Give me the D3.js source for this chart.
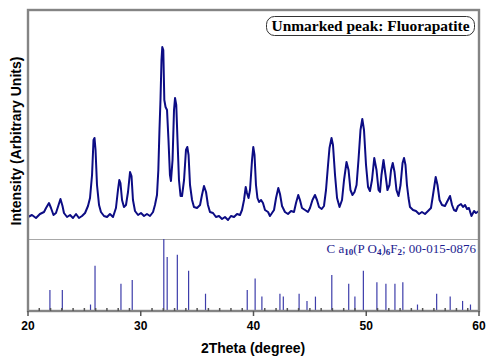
<!DOCTYPE html>
<meta charset="utf-8">
<head>
  <title>XRD pattern</title>
  <script src="https://d3js.org/d3.v7.min.js"></script>
  <style>
    body { margin: 0; background: #fff; }
  </style>
</head>
<body>
<div id="chart"></div>
<script>
// measured pattern: 2theta (deg) and intensity (arbitrary units)
const twoTheta = [20.00,20.35,20.71,21.06,21.42,21.60,21.86,22.04,22.26,22.48,22.71,22.88,23.06,23.19,23.46,23.73,23.99,24.26,24.52,24.79,
  25.06,25.32,25.50,25.68,25.81,25.90,25.99,26.12,26.30,26.47,26.74,27.01,27.27,27.54,27.80,27.98,28.10,28.20,28.34,28.51,
  28.69,28.87,29.05,29.18,29.31,29.49,29.76,30.02,30.29,30.55,30.82,31.09,31.26,31.44,31.56,31.66,31.75,31.84,31.91,32.00,
  32.09,32.20,32.33,32.46,32.59,32.68,32.82,32.95,33.04,33.15,33.26,33.39,33.53,33.66,33.84,34.01,34.13,34.24,34.37,34.55,
  34.72,34.99,35.26,35.43,35.61,35.79,35.96,36.14,36.41,36.67,36.94,37.21,37.47,37.74,38.00,38.27,38.54,38.80,38.98,39.16,
  39.31,39.42,39.56,39.69,39.87,39.98,40.09,40.22,40.35,40.49,40.67,40.84,41.02,41.29,41.46,41.64,41.82,42.00,42.20,42.35,
  42.53,42.79,43.06,43.33,43.59,43.77,43.97,44.12,44.30,44.57,44.83,45.01,45.23,45.45,45.63,45.81,46.05,46.25,46.43,46.61,
  46.74,46.92,47.05,47.23,47.41,47.63,47.85,48.03,48.25,48.43,48.60,48.78,48.96,49.14,49.31,49.49,49.65,49.80,49.98,50.16,
  50.33,50.51,50.71,50.91,51.09,51.22,51.35,51.53,51.71,51.88,52.06,52.20,52.35,52.51,52.68,52.86,53.04,53.22,53.35,53.48,
  53.61,53.75,53.88,54.15,54.41,54.68,54.94,55.21,55.48,55.74,55.92,56.16,56.32,56.50,56.72,56.98,57.25,57.43,57.61,57.78,
  57.96,58.14,58.40,58.58,58.76,58.94,59.11,59.33,59.56,59.73,60.00];
const intensity = [115,125,110,130,140,160,185,160,125,135,175,205,170,135,115,125,110,130,110,120,
  135,170,210,325,500,510,450,275,175,140,120,115,130,115,160,250,300,285,200,165,
  175,240,340,320,200,145,125,135,120,130,120,140,175,225,350,550,700,900,965,950,
  700,665,650,500,325,295,400,650,710,675,500,300,220,220,300,450,465,425,275,200,
  165,160,175,225,270,240,175,140,135,115,120,105,115,100,120,115,130,125,150,200,
  265,235,210,250,400,465,425,275,210,190,200,185,150,140,120,135,150,210,260,230,
  170,140,130,145,140,185,225,200,160,150,140,160,200,225,200,165,155,170,250,375,
  460,510,475,325,210,165,200,300,390,350,250,225,240,275,400,550,605,550,375,265,
  245,300,410,350,250,240,325,400,325,250,275,350,385,340,250,220,275,385,410,375,
  275,210,165,150,145,130,140,130,145,160,225,315,275,200,175,170,200,220,175,150,
  145,170,180,165,175,155,160,120,145,135,145];

// reference card: Ca10(PO4)6F2, 00-015-0876
const refPeaks = [21.9,23.0,25.5,25.9,28.2,29.2,32.0,32.3,33.2,34.2,35.7,39.4,40.1,40.7,42.3,42.6,44.0,44.7,45.45,46.9,
  48.4,48.95,49.7,50.9,51.7,52.5,53.2,54.5,56.2,57.4,58.5,59.2];
const refIntensity = [29,29,9,63,38,43,100,75,78,56,24,29,45,20,24,20,24,14,20,50,
  38,20,56,40,38,38,40,9,24,20,14,9];

const xTicks = [20,30,40,50,60];

const svg = d3.select("#chart").append("svg")
  .attr("width", 486)
  .attr("height", 356);

const padL = 28, padR = 479, padT = 10, padB = 311, split = 240;

const x = d3.scaleLinear().domain([20, 60]).range([padL, padR]);
const y = d3.scaleLinear().domain([0, 1150]).range([split, padT]);
const yRef = d3.scaleLinear().domain([0, 100]).range([padB, split - 1]);

// divider between pattern and reference card
svg.append("line")
  .attr("x1", padL).attr("x2", padR)
  .attr("y1", split - 0.5).attr("y2", split - 0.5)
  .attr("stroke", "#a8a8a8").attr("stroke-width", 1);

// reference sticks
svg.append("g")
  .selectAll("line")
  .data(refPeaks)
  .enter().append("line")
    .attr("x1", d => x(d) + 0.5).attr("x2", d => x(d) + 0.5)
    .attr("y1", padB)
    .attr("y2", (d, i) => yRef(refIntensity[i]))
    .attr("stroke", "#3d3daa")
    .attr("stroke-width", 1.2);

// measured pattern
const pts = twoTheta.map((t, i) => [t, intensity[i]]);
svg.append("path")
  .datum(pts)
  .attr("fill", "none")
  .attr("stroke", "#0c0c84")
  .attr("stroke-width", 2)
  .attr("stroke-linejoin", "round")
  .attr("d", d3.line().x(d => x(d[0])).y(d => y(d[1])));

// frame
svg.append("rect")
  .attr("x", padL).attr("y", padT)
  .attr("width", padR - padL).attr("height", padB - padT)
  .attr("fill", "none")
  .attr("stroke", "#848484")
  .attr("stroke-width", 2.4);

// minor ticks inward, major ticks outward
const minor = d3.range(21, 60).filter(v => v % 10 != 0);
svg.append("g").selectAll("line")
  .data(minor)
  .enter().append("line")
    .attr("x1", d => x(d)).attr("x2", d => x(d))
    .attr("y1", padB).attr("y2", padB - 3)
    .attr("stroke", "#555").attr("stroke-width", 1.5);

svg.append("g").selectAll("line")
  .data(xTicks)
  .enter().append("line")
    .attr("x1", d => x(d)).attr("x2", d => x(d))
    .attr("y1", padB).attr("y2", padB + 5)
    .attr("stroke", "#555").attr("stroke-width", 1.5);

svg.append("g").selectAll("text")
  .data(xTicks)
  .enter().append("text")
    .attr("x", d => x(d))
    .attr("y", padB + 19)
    .attr("text-anchor", "middle")
    .style("font-family", "Arial, 'Liberation Sans', sans-serif")
    .style("font-size", "12px")
    .style("font-weight", "bold")
    .text(d => d);

// axis titles
svg.append("text")
  .attr("x", 253).attr("y", 353)
  .attr("text-anchor", "middle")
  .style("font-family", "Arial, 'Liberation Sans', sans-serif")
  .style("font-size", "14px")
  .style("font-weight", "bold")
  .text("2Theta (degree)");

svg.append("text")
  .attr("transform", "translate(21,141) rotate(-90)")
  .attr("text-anchor", "middle")
  .style("font-family", "Arial, 'Liberation Sans', sans-serif")
  .style("font-size", "14px")
  .style("font-weight", "bold")
  .text("Intensity (Arbitrary Units)");

// note box
svg.append("rect")
  .attr("x", 266.5).attr("y", 16.5)
  .attr("width", 208).attr("height", 19)
  .attr("rx", 8).attr("ry", 8)
  .attr("fill", "#fff")
  .attr("stroke", "#333").attr("stroke-width", 1);

svg.append("text")
  .attr("x", 370.5).attr("y", 31)
  .attr("text-anchor", "middle")
  .attr("textLength", 198)
  .attr("lengthAdjust", "spacingAndGlyphs")
  .attr("font-family", "'Liberation Serif', 'Times New Roman', serif")
  .attr("font-size", 14.5)
  .attr("font-weight", 700)
  .text("Unmarked peak: Fluorapatite");

// reference card label
const card = svg.append("text")
  .attr("x", 476).attr("y", 253)
  .attr("text-anchor", "end")
  .attr("fill", "#1e1e90")
  .style("font-family", "'Liberation Serif', 'Times New Roman', serif")
  .style("font-size", "13px");
card.append("tspan").text("C a");
card.append("tspan").attr("dy", 2).style("font-size", "9px").style("font-weight", "bold").text("10");
card.append("tspan").attr("dy", -2).text("(P O");
card.append("tspan").attr("dy", 2).style("font-size", "9px").style("font-weight", "bold").text("4");
card.append("tspan").attr("dy", -2).text(")");
card.append("tspan").attr("dy", 2).style("font-size", "9px").style("font-weight", "bold").text("6");
card.append("tspan").attr("dy", -2).text("F");
card.append("tspan").attr("dy", 2).style("font-size", "9px").style("font-weight", "bold").text("2");
card.append("tspan").attr("dy", -2).text("; 00-015-0876");
</script>
</body>
